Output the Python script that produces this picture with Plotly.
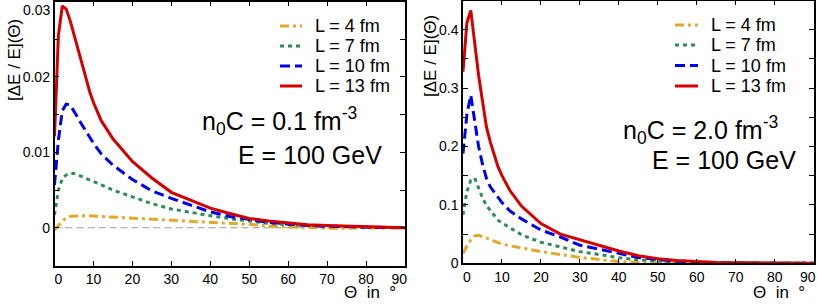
import plotly.graph_objects as go

W, H = 817, 304

theta = [0, 1, 2, 3, 4, 5, 6, 7, 8, 9, 10, 12, 15, 20, 25, 30, 35, 40, 45, 50,
         55, 60, 65, 70, 75, 80, 85, 90]

# Left panel: n0C = 0.1 fm^-3
left_L4 = [-0.0003, 0.0003, 0.0009, 0.0013, 0.0015, 0.00155, 0.0016, 0.0016, 0.0016, 0.00158,
           0.00155, 0.0015, 0.0014, 0.00125, 0.0011, 0.00097, 0.00087, 0.00076, 0.0006, 0.00045,
           0.0002, 0.0001, 0.00002, -0.00005, -0.00005, -0.00004, -0.00002, 0.0]
left_L7 = [0.0017, 0.0050, 0.0065, 0.0070, 0.0072, 0.0072, 0.0070, 0.0068, 0.0066, 0.0064,
           0.0062, 0.0057, 0.0050, 0.0041, 0.0032, 0.0025, 0.0020, 0.0016, 0.0012, 0.0009,
           0.0006, 0.0004, 0.0003, 0.0002, 0.0001, 0.00006, 0.00003, 0.0]
left_L10 = [0.0057, 0.0116, 0.0155, 0.0164, 0.0163, 0.0155, 0.0146, 0.0137, 0.0128, 0.0120,
            0.0112, 0.0098, 0.0083, 0.0064, 0.0049, 0.0039, 0.0030, 0.0021, 0.0015, 0.0011,
            0.0007, 0.0005, 0.0003, 0.0002, 0.00012, 0.00008, 0.00004, 0.0]
left_L13 = [0.0121, 0.0255, 0.0294, 0.0290, 0.0275, 0.0257, 0.0238, 0.0220, 0.0200, 0.0181,
            0.0166, 0.0142, 0.0118, 0.0088, 0.0066, 0.0047, 0.0037, 0.0026, 0.0019, 0.00124,
            0.0009, 0.0006, 0.0004, 0.0003, 0.0002, 0.0001, 0.00005, 0.0]

# Right panel: n0C = 2.0 fm^-3
right_L4 = [0.017, 0.030, 0.040, 0.047, 0.048, 0.046, 0.043, 0.041, 0.038, 0.035,
            0.033, 0.030, 0.026, 0.020, 0.015, 0.010, 0.0065, 0.003, 0.0015, 0.0007,
            0.0003, 0.0001, 0.0, 0.0, 0.0, 0.0, 0.0, 0.0]
right_L7 = [0.083, 0.123, 0.142, 0.146, 0.129, 0.112, 0.099, 0.090, 0.082, 0.074,
            0.069, 0.061, 0.049, 0.036, 0.028, 0.020, 0.015, 0.0095, 0.006, 0.0035,
            0.002, 0.001, 0.0005, 0.0003, 0.0001, 0.00005, 0.0, 0.0]
right_L10 = [0.188, 0.255, 0.288, 0.245, 0.200, 0.170, 0.146, 0.131, 0.122, 0.114,
             0.104, 0.090, 0.076, 0.057, 0.045, 0.031, 0.024, 0.016, 0.010, 0.0065,
             0.0035, 0.002, 0.001, 0.0005, 0.0003, 0.0001, 0.00005, 0.0]
right_L13 = [0.328, 0.412, 0.433, 0.376, 0.322, 0.278, 0.234, 0.208, 0.185, 0.165,
             0.150, 0.125, 0.098, 0.068, 0.050, 0.040, 0.030, 0.021, 0.013, 0.008,
             0.005, 0.003, 0.0015, 0.0008, 0.0004, 0.0002, 0.0001, 0.0]

series_names = ["L = 4 fm", "L = 7 fm", "L = 10 fm", "L = 13 fm"]
panel_labels = ["n<sub>0</sub>C = 0.1 fm<sup>-3</sup>", "n<sub>0</sub>C = 2.0 fm<sup>-3</sup>"]
energy_label = "E = 100 GeV"
y_title = "[ΔE / E](Θ)"
x_title = "Θ  in  °"

x_tickvals = [0, 10, 20, 30, 40, 50, 60, 70, 80, 90]
x_ticktext = ["\u00a0\u00a00", "10", "20", "30", "40", "50", "60", "70", "80",
              "90\u00a0\u00a0\u00a0"]
left_y_tickvals = [0, 0.01, 0.02]
left_y_ticktext = ["0", "0.01", "0.02"]
left_y_top_label = "0.03"
right_y_tickvals = [0, 0.1, 0.2, 0.3, 0.4]
right_y_ticktext = ["0", "0.1", "0.2", "0.3", "0.4"]

colors = ["#E3A82A", "#2E8B57", "#0000F0", "#D40000"]
dashes = ["9px,4px,3px,4px", "4px,4px", "10px,5px", "solid"]

FONT = "Liberation Sans, Arial, Helvetica, sans-serif"


def px_x(p):
    return p / W


def px_y(p):
    return 1 - p / H


fig = go.Figure()

# zero reference line on the left panel (drawn first, under the curves)
fig.add_trace(go.Scatter(x=[theta[0], theta[-1]], y=[0, 0], mode="lines", showlegend=False,
                         line=dict(color="#9a9a9a", width=1, dash="7px,4px"),
                         xaxis="x", yaxis="y", hoverinfo="skip"))

left = [left_L4, left_L7, left_L10, left_L13]
right = [right_L4, right_L7, right_L10, right_L13]

for i in range(4):
    fig.add_trace(go.Scatter(x=theta, y=left[i], mode="lines", name=series_names[i],
                             line=dict(color=colors[i], width=3, dash=dashes[i]),
                             xaxis="x", yaxis="y", showlegend=False))
for i in range(4):
    fig.add_trace(go.Scatter(x=theta, y=right[i], mode="lines", name=series_names[i],
                             line=dict(color=colors[i], width=3, dash=dashes[i]),
                             xaxis="x2", yaxis="y2", showlegend=False))

axis_common = dict(showline=True, linecolor="black", linewidth=1.5, mirror="allticks",
                   ticks="inside", ticklen=5, tickwidth=1.2, tickcolor="black",
                   showgrid=False, zeroline=False, automargin=False,
                   ticklabeloverflow="allow",
                   tickfont=dict(family=FONT, size=14, color="black"))

fig.update_layout(
    width=W, height=H,
    margin=dict(l=0, r=0, t=0, b=0, autoexpand=False),
    paper_bgcolor="white", plot_bgcolor="white",
    showlegend=False,
    xaxis=dict(domain=[px_x(54.5), px_x(405)], range=[0, 90], tickmode="array",
               tickvals=x_tickvals, ticktext=x_ticktext, anchor="y", **axis_common),
    yaxis=dict(domain=[px_y(265.7), px_y(1.5)], range=[-0.00503, 0.0300], tickmode="array",
               tickvals=left_y_tickvals, ticktext=left_y_ticktext, anchor="x",
               minor=dict(ticks="inside", ticklen=5, dtick=0.005, tickcolor="black",
                          tickwidth=1.2),
               **axis_common),
    xaxis2=dict(domain=[px_x(463), px_x(813.7)], range=[0, 90], tickmode="array",
                tickvals=x_tickvals, ticktext=x_ticktext, anchor="y2", **axis_common),
    yaxis2=dict(domain=[px_y(263.3), px_y(0.5)], range=[0, 0.45], tickmode="array",
                tickvals=right_y_tickvals, ticktext=right_y_ticktext, anchor="x2",
                minor=dict(ticks="inside", ticklen=5, dtick=0.05, tickcolor="black",
                           tickwidth=1.2),
                **axis_common),
)

ann_font_big = dict(family=FONT, size=25, color="black")
ann_font_mid = dict(family=FONT, size=17, color="black")
leg_font = dict(family=FONT, size=18, color="black")
tick_font = dict(family=FONT, size=14, color="black")

annotations = [
    dict(text=panel_labels[0], x=px_x(200), y=px_y(121),
         xanchor="left", yanchor="middle", font=ann_font_big),
    dict(text=energy_label, x=px_x(384), y=px_y(155), xanchor="right", yanchor="middle",
         font=ann_font_big),
    dict(text=panel_labels[1], x=px_x(621), y=px_y(130),
         xanchor="left", yanchor="middle", font=ann_font_big),
    dict(text=energy_label, x=px_x(798), y=px_y(160), xanchor="right", yanchor="middle",
         font=ann_font_big),
    dict(text=y_title, x=px_x(14), y=px_y(60), textangle=-90,
         xanchor="center", yanchor="middle", font=ann_font_mid),
    dict(text=y_title, x=px_x(430), y=px_y(56), textangle=-90,
         xanchor="center", yanchor="middle", font=ann_font_mid),
    dict(text=x_title, x=px_x(370), y=px_y(292), xanchor="center", yanchor="middle",
         font=ann_font_mid),
    dict(text=x_title, x=px_x(779), y=px_y(292), xanchor="center", yanchor="middle",
         font=ann_font_mid),
    # top tick label of the left panel sits slightly below its tick (as in the original)
    dict(text=left_y_top_label, x=px_x(52), y=px_y(10), xanchor="right", yanchor="middle",
         font=tick_font),
]

# legends (one per panel): sample line + label
shapes = []
legend_specs = [
    dict(x0=280, x1=302, tx=313, ys=[26, 46, 66, 86]),
    dict(x0=675, x1=698, tx=709, ys=[25, 45, 65.5, 86]),
]
for spec in legend_specs:
    for i in range(4):
        yy = px_y(spec["ys"][i])
        shapes.append(dict(type="line", xref="paper", yref="paper",
                           x0=px_x(spec["x0"]), x1=px_x(spec["x1"]), y0=yy, y1=yy,
                           line=dict(color=colors[i], width=3, dash=dashes[i])))
        annotations.append(dict(text=series_names[i], x=px_x(spec["tx"]), y=yy,
                                xanchor="left", yanchor="middle", font=leg_font))

for a in annotations:
    a.update(xref="paper", yref="paper", showarrow=False)
fig.update_layout(annotations=annotations, shapes=shapes)

fig.write_html("out.html",
               config={"displayModeBar": False},
               post_script="document.body.style.margin='0px';"
                           "document.body.style.overflow='hidden';")
